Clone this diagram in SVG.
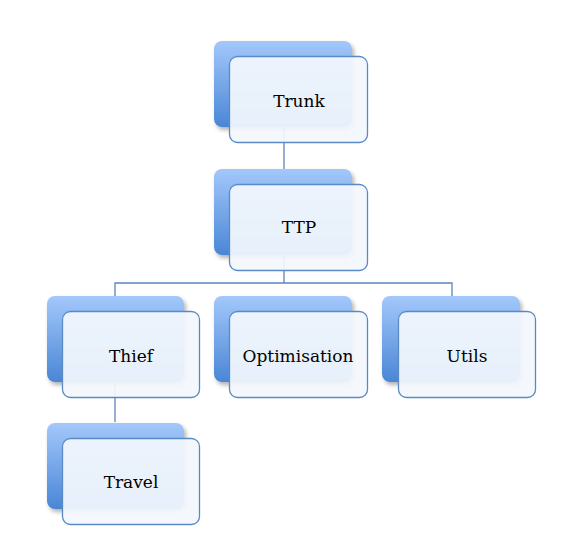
<svg xmlns="http://www.w3.org/2000/svg" width="566" height="553" viewBox="0 0 566 553">
<defs>
<linearGradient id="bg" x1="0" y1="0" x2="0" y2="1">
<stop offset="0" stop-color="#a3c8fb"/>
<stop offset="1" stop-color="#4a86d6"/>
</linearGradient>
<filter id="sh" x="-10%" y="-10%" width="130%" height="130%">
<feDropShadow dx="2" dy="3" stdDeviation="2" flood-color="#000" flood-opacity="0.3"/>
</filter>
</defs>
<style>
.back{fill:url(#bg);filter:url(#sh)}
.front{fill:#f3f7fd;fill-opacity:0.93;stroke:#5a8ac6;stroke-width:1.3}
.lbl{font-family:"DejaVu Serif","Liberation Serif",serif;font-size:17px;fill:#000;text-anchor:middle}
.con{fill:none;stroke:#5a85bd;stroke-width:1.3}
</style>
<rect width="566" height="553" fill="#fff"/>
<g id="connectors">
<path class="con" d="M284 127V169"/>
<path class="con" d="M284 255V283M115 296V283H452V296"/>
<path class="con" d="M115 382V422"/>
</g>
<g id="trunk">
<rect class="back" x="214" y="41" width="138" height="86" rx="8"/>
<rect class="front" x="229.5" y="56.5" width="138" height="86" rx="8"/>
<text class="lbl" x="299" y="107">Trunk</text>
</g>
<g id="ttp">
<rect class="back" x="214" y="169" width="138" height="86" rx="8"/>
<rect class="front" x="229.5" y="184.5" width="138" height="86" rx="8"/>
<text class="lbl" x="299" y="233">TTP</text>
</g>
<g id="thief">
<rect class="back" x="47" y="296" width="137" height="86" rx="8"/>
<rect class="front" x="62.5" y="311.5" width="137" height="86" rx="8"/>
<text class="lbl" x="131" y="362">Thief</text>
</g>
<g id="optimisation">
<rect class="back" x="214" y="296" width="138" height="86" rx="8"/>
<rect class="front" x="229.5" y="311.5" width="138" height="86" rx="8"/>
<text class="lbl" x="298" y="362">Optimisation</text>
</g>
<g id="utils">
<rect class="back" x="382" y="296" width="138" height="86" rx="8"/>
<rect class="front" x="398.5" y="311.5" width="137" height="86" rx="8"/>
<text class="lbl" x="467" y="362">Utils</text>
</g>
<g id="travel">
<rect class="back" x="47" y="423" width="137" height="86" rx="8"/>
<rect class="front" x="62.5" y="438.5" width="137" height="86" rx="8"/>
<text class="lbl" x="131" y="488">Travel</text>
</g>
</svg>
